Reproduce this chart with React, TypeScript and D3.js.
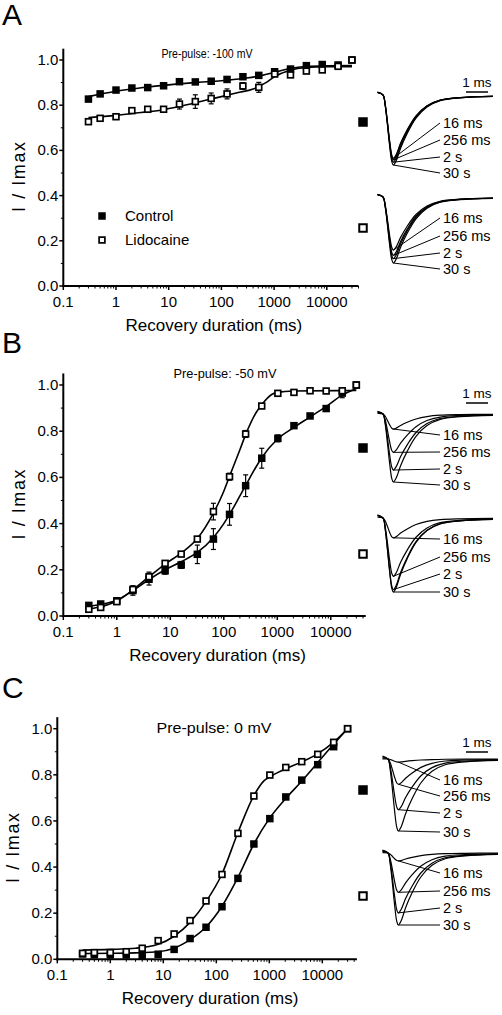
import React from "react";
import * as d3 from "d3";

// ---------- data ----------
const durations = [0.3, 0.5, 1, 2, 4, 8, 16, 32, 64, 128, 256, 512, 1024, 2048, 4096, 8192, 16384, 30000];
const xTicks = [0.1, 1, 10, 100, 1000, 10000];
const xTickLabels = ["0.1", "1", "10", "100", "1000", "10000"];
const yTicks = [0, 0.2, 0.4, 0.6, 0.8, 1.0];
const yTickLabels = ["0.0", "0.2", "0.4", "0.6", "0.8", "1.0"];

const A_control = [0.827, 0.85, 0.867, 0.876, 0.878, 0.886, 0.904, 0.903, 0.906, 0.914, 0.926, 0.932, 0.948, 0.96, 0.975, 0.98, 0.978, 1.0];
const A_controlErr = [0.01, 0.008, 0.01, 0, 0, 0, 0, 0, 0, 0, 0, 0, 0, 0, 0, 0, 0, 0];
const A_lido = [0.727, 0.742, 0.749, 0.776, 0.782, 0.782, 0.805, 0.816, 0.83, 0.85, 0.885, 0.879, 0.938, 0.934, 0.951, 0.956, 0.972, 1.0];
const A_lidoErr = [0.01, 0.01, 0.012, 0.01, 0.01, 0.01, 0.022, 0.03, 0.024, 0.022, 0.015, 0.022, 0, 0, 0, 0, 0, 0];

const B_control = [0.046, 0.052, 0.066, 0.11, 0.159, 0.196, 0.221, 0.267, 0.333, 0.44, 0.564, 0.683, 0.769, 0.824, 0.866, 0.898, 0.965, 1.0];
const B_controlErr = [0.01, 0, 0.01, 0.02, 0.025, 0.015, 0.015, 0.04, 0.045, 0.047, 0.047, 0.043, 0.015, 0, 0, 0, 0.02, 0];
const B_lido = [0.029, 0.037, 0.062, 0.115, 0.17, 0.228, 0.268, 0.333, 0.452, 0.603, 0.788, 0.909, 0.964, 0.968, 0.975, 0.974, 0.975, 1.0];
const B_lidoErr = [0, 0, 0, 0.015, 0.02, 0.01, 0, 0, 0.036, 0.015, 0.015, 0, 0, 0, 0, 0, 0, 0];

const C_control = [0.023, 0.02, 0.019, 0.019, 0.017, 0.022, 0.043, 0.09, 0.139, 0.228, 0.351, 0.5, 0.61, 0.704, 0.777, 0.844, 0.922, 1.0];
const C_controlErr = [0, 0, 0, 0, 0, 0, 0, 0, 0, 0, 0, 0, 0, 0, 0, 0, 0, 0];
const C_lido = [0.026, 0.029, 0.029, 0.033, 0.048, 0.081, 0.11, 0.168, 0.253, 0.368, 0.546, 0.708, 0.799, 0.832, 0.857, 0.889, 0.941, 1.0];
const C_lidoErr = [0, 0, 0, 0, 0, 0, 0, 0, 0, 0, 0, 0, 0, 0, 0, 0, 0, 0];

// fitted curves: [duration ms, I/Imax]
const A_controlFit: [number, number][] = [[0.3, 0.838], [1, 0.862], [3, 0.877], [10, 0.89], [30, 0.9], [100, 0.908], [300, 0.92], [600, 0.932], [1000, 0.945], [2000, 0.962], [4000, 0.971], [10000, 0.974], [30000, 0.975]];
const A_lidoFit: [number, number][] = [[0.3, 0.745], [1, 0.755], [3, 0.768], [8, 0.78], [20, 0.8], [50, 0.822], [100, 0.838], [200, 0.855], [400, 0.872], [700, 0.9], [1000, 0.925], [2000, 0.955], [4000, 0.967], [10000, 0.97], [30000, 0.97]];
const B_controlFit: [number, number][] = [[0.3, 0.042], [0.5, 0.05], [1, 0.068], [2, 0.11], [4, 0.158], [8, 0.2], [16, 0.235], [32, 0.275], [64, 0.34], [100, 0.4], [128, 0.44], [200, 0.52], [256, 0.565], [400, 0.645], [512, 0.685], [1000, 0.765], [2000, 0.815], [4000, 0.86], [8000, 0.905], [16000, 0.955], [30000, 0.985]];
const B_lidoFit: [number, number][] = [[0.3, 0.03], [0.5, 0.04], [1, 0.065], [2, 0.113], [4, 0.17], [8, 0.225], [16, 0.272], [32, 0.335], [64, 0.445], [100, 0.54], [128, 0.605], [200, 0.72], [256, 0.785], [400, 0.88], [512, 0.915], [800, 0.96], [1000, 0.968], [2000, 0.974], [30000, 0.976]];
const C_controlFit: [number, number][] = [[0.3, 0.025], [1, 0.026], [3, 0.028], [8, 0.033], [16, 0.048], [32, 0.085], [64, 0.14], [128, 0.23], [256, 0.355], [512, 0.5], [1000, 0.61], [2000, 0.695], [4000, 0.77], [8000, 0.85], [16000, 0.93], [30000, 1.0]];
const C_lidoFit: [number, number][] = [[0.3, 0.04], [1, 0.043], [3, 0.048], [8, 0.065], [16, 0.1], [32, 0.16], [64, 0.25], [128, 0.37], [256, 0.55], [512, 0.71], [800, 0.775], [1000, 0.79], [2000, 0.825], [4000, 0.855], [8000, 0.89], [16000, 0.94], [30000, 1.0]];

// example current traces: normalized waveform
const traceTimes = [-0.25, 0, 0.1, 0.2, 0.3, 0.4, 0.47, 0.6, 0.8, 1.1, 1.5, 2.0, 2.6, 3.5, 5.0];
const traceShape = [-0.04, 0, 0.15, 0.42, 0.72, 0.95, 1, 0.94, 0.76, 0.55, 0.33, 0.17, 0.08, 0.04, 0.02];
const traceDurations = [16, 256, 2048, 30000];
const traceLabels = ["16 ms", "256 ms", "2 s", "30 s"];

const titles = ["Pre-pulse: -100 mV", "Pre-pulse: -50 mV", "Pre-pulse: 0 mV"];
const panelLetters = ["A", "B", "C"];
const legendLabels = ["Control", "Lidocaine"];

// ---------- layout ----------
const FONT = "'Liberation Sans', Arial, Helvetica, sans-serif";

type Panel = {
  letter: string; letterY: number;
  x0: number; decade: number; xMax: number;
  y0: number; y1: number;
  title: string; titleX: number; titleY: number; titleSize: number; titleLen: number;
  control: number[]; controlErr: number[]; lido: number[]; lidoErr: number[];
  controlFit: [number, number][]; lidoFit: [number, number][];
  legend: boolean;
  traceX0: number;
  groups: { base: number; amp: number; labelY: number[]; marker: "filled" | "open"; markerY: number }[];
  barY: number;
};

const panels: Panel[] = [
  {
    letter: panelLetters[0], letterY: 24.5,
    x0: 63.3, decade: 52.7, xMax: 40000, y0: 286, y1: 60,
    title: titles[0], titleX: 207, titleY: 58, titleSize: 12, titleLen: 91,
    control: A_control, controlErr: A_controlErr, lido: A_lido, lidoErr: A_lidoErr,
    controlFit: A_controlFit, lidoFit: A_lidoFit, legend: true,
    traceX0: 383,
    groups: [
      { base: 95, amp: 70, labelY: [123, 140, 157, 173], marker: "filled", markerY: 122 },
      { base: 197, amp: 66, labelY: [218, 236, 253, 269], marker: "open", markerY: 228 },
    ],
    barY: 92,
  },
  {
    letter: panelLetters[1], letterY: 353,
    x0: 63.3, decade: 53.5, xMax: 45000, y0: 616, y1: 385,
    title: titles[1], titleX: 225, titleY: 378, titleSize: 13.5, titleLen: 103,
    control: B_control, controlErr: B_controlErr, lido: B_lido, lidoErr: B_lidoErr,
    controlFit: B_controlFit, lidoFit: B_lidoFit, legend: false,
    traceX0: 383,
    groups: [
      { base: 414, amp: 68, labelY: [435, 452, 469, 485], marker: "filled", markerY: 448 },
      { base: 518, amp: 74, labelY: [539, 557, 574, 592], marker: "open", markerY: 554 },
    ],
    barY: 403,
  },
  {
    letter: panelLetters[2], letterY: 698,
    x0: 57.3, decade: 53, xMax: 45000, y0: 959.3, y1: 728.7,
    title: titles[2], titleX: 214, titleY: 733, titleSize: 15, titleLen: 115,
    control: C_control, controlErr: C_controlErr, lido: C_lido, lidoErr: C_lidoErr,
    controlFit: C_controlFit, lidoFit: C_lidoFit, legend: false,
    traceX0: 388,
    groups: [
      { base: 759, amp: 72, labelY: [780, 796, 813, 832], marker: "filled", markerY: 790 },
      { base: 853, amp: 72, labelY: [873, 891, 908, 925], marker: "open", markerY: 896 },
    ],
    barY: 752,
  },
];

const minorXTicks = (() => {
  const out: number[] = [];
  for (let d = 0.1; d < 1e5; d *= 10) for (let k = 2; k <= 9; k++) out.push(d * k);
  return out;
})();
const minorYTicks = [0.1, 0.3, 0.5, 0.7, 0.9];

function Square({ x, y, s, filled, sw = 1.5 }: { x: number; y: number; s: number; filled: boolean; sw?: number }) {
  return filled ? (
    <rect x={x - s / 2} y={y - s / 2} width={s} height={s} fill="#000" />
  ) : (
    <rect x={x - s / 2 + sw / 2} y={y - s / 2 + sw / 2} width={s - sw} height={s - sw} fill="#fff" stroke="#000" strokeWidth={sw} />
  );
}

function PanelView({ p }: { p: Panel }) {
  const xEnd = p.x0 + p.decade * Math.log10(p.xMax / 0.1);
  const x = d3.scaleLog().domain([0.1, p.xMax]).range([p.x0, xEnd]);
  const unit = p.y0 - p.y1;
  const y = d3.scaleLinear().domain([0, 1.05]).range([p.y0, p.y0 - unit * 1.05]);
  const line = d3.line<[number, number]>().x((d) => x(d[0])).y((d) => y(d[1])).curve(d3.curveMonotoneX);

  const tms = 22; // px per ms in traces
  const traceLine = d3.line<[number, number]>().curve(d3.curveCatmullRom.alpha(0.5));

  const errBars = (vals: number[], errs: number[]) =>
    vals.map((v, i) =>
      errs[i] > 0 ? (
        <g key={i} stroke="#000" strokeWidth={1.2}>
          <line x1={x(durations[i])} x2={x(durations[i])} y1={y(v - errs[i])} y2={y(v + errs[i])} />
          <line x1={x(durations[i]) - 2.5} x2={x(durations[i]) + 2.5} y1={y(v - errs[i])} y2={y(v - errs[i])} />
          <line x1={x(durations[i]) - 2.5} x2={x(durations[i]) + 2.5} y1={y(v + errs[i])} y2={y(v + errs[i])} />
        </g>
      ) : null
    );

  return (
    <g>
      <text x={2} y={p.letterY} fontSize={30} fontFamily={FONT}>{p.letter}</text>
      <text x={p.titleX} y={p.titleY} fontSize={p.titleSize} fontFamily={FONT} textAnchor="middle" textLength={p.titleLen} lengthAdjust="spacingAndGlyphs">{p.title}</text>

      {/* axes */}
      <line x1={p.x0} x2={p.x0} y1={p.y0 + 1} y2={y(1.05)} stroke="#000" strokeWidth={2} />
      <line x1={p.x0 - 1} x2={xEnd} y1={p.y0} y2={p.y0} stroke="#000" strokeWidth={2} />
      {xTicks.map((t, i) => (
        <g key={t}>
          <line x1={x(t)} x2={x(t)} y1={p.y0} y2={p.y0 + 4} stroke="#000" strokeWidth={1.5} />
          <text x={x(t)} y={p.y0 + 21} fontSize={15} fontFamily={FONT} textAnchor="middle">{xTickLabels[i]}</text>
        </g>
      ))}
      {minorXTicks.filter((t) => t <= p.xMax).map((t) => (
        <line key={t} x1={x(t)} x2={x(t)} y1={p.y0} y2={p.y0 + 2.5} stroke="#000" strokeWidth={1} />
      ))}
      {yTicks.map((t, i) => (
        <g key={t}>
          <line x1={p.x0 - 4} x2={p.x0} y1={y(t)} y2={y(t)} stroke="#000" strokeWidth={1.5} />
          <text x={p.x0 - 5} y={y(t) + 5} fontSize={15} fontFamily={FONT} textAnchor="end">{yTickLabels[i]}</text>
        </g>
      ))}
      {minorYTicks.map((t) => (
        <line key={t} x1={p.x0 - 2.5} x2={p.x0} y1={y(t)} y2={y(t)} stroke="#000" strokeWidth={1} />
      ))}
      <text x={(p.x0 + xEnd) / 2 + 3} y={p.y0 + 45} fontSize={17} fontFamily={FONT} textAnchor="middle">Recovery duration (ms)</text>
      <text transform={`translate(${p.x0 - 38},${(p.y0 + p.y1) / 2 + 4}) rotate(-90)`} fontSize={18} fontFamily={FONT} textAnchor="middle" textLength={70} lengthAdjust="spacing">I / Imax</text>

      {/* fits */}
      <path d={line(p.controlFit) || ""} fill="none" stroke="#000" strokeWidth={1.6} />
      <path d={line(p.lidoFit) || ""} fill="none" stroke="#000" strokeWidth={1.6} />

      {/* error bars */}
      {errBars(p.control, p.controlErr)}
      {errBars(p.lido, p.lidoErr)}

      {/* points */}
      {p.control.map((v, i) => <Square key={"c" + i} x={x(durations[i])} y={y(v)} s={7.5} filled />)}
      {p.lido.map((v, i) => <Square key={"l" + i} x={x(durations[i])} y={y(v)} s={7.5} filled={false} sw={1.7} />)}

      {p.legend && (
        <g fontFamily={FONT} fontSize={15}>
          <Square x={102} y={216} s={7.5} filled />
          <text x={125} y={221}>{legendLabels[0]}</text>
          <Square x={102} y={240} s={7.5} filled={false} sw={1.7} />
          <text x={125} y={245}>{legendLabels[1]}</text>
        </g>
      )}

      {/* scale bar */}
      <line x1={466} x2={466 + tms} y1={p.barY} y2={p.barY} stroke="#000" strokeWidth={1.5} />
      <text x={477} y={p.barY - 5} fontSize={13.5} fontFamily={FONT} textAnchor="middle">1 ms</text>

      {/* traces */}
      {p.groups.map((g, gi) => {
        const series = gi === 0 ? p.control : p.lido;
        const fracs = traceDurations.map((d) => series[durations.indexOf(d)]);
        const troughT = traceTimes[traceShape.indexOf(1)];
        return (
          <g key={gi}>
            <Square x={363} y={g.markerY} s={9.5} filled={g.marker === "filled"} sw={2} />
            {fracs.map((f, k) => {
              const pts: [number, number][] = traceTimes.map((t, j) => [p.traceX0 + t * tms, g.base + traceShape[j] * f * g.amp]);
              return <path key={k} d={traceLine(pts) || ""} fill="none" stroke="#000" strokeWidth={1.2} />;
            })}
            {fracs.map((f, k) => (
              <g key={"l" + k}>
                <line x1={p.traceX0 + troughT * tms} y1={g.base + f * g.amp} x2={440} y2={g.labelY[k]} stroke="#000" strokeWidth={1} />
                <text x={443} y={g.labelY[k] + 5} fontSize={14.5} fontFamily={FONT}>{traceLabels[k]}</text>
              </g>
            ))}
          </g>
        );
      })}
    </g>
  );
}

export default function App() {
  return (
    <svg width={502} height={1015} style={{ position: "absolute", left: 0, top: 0, background: "#fff" }}>
      <rect width={502} height={1015} fill="#fff" />
      {panels.map((p) => <PanelView key={p.letter} p={p} />)}
    </svg>
  );
}
